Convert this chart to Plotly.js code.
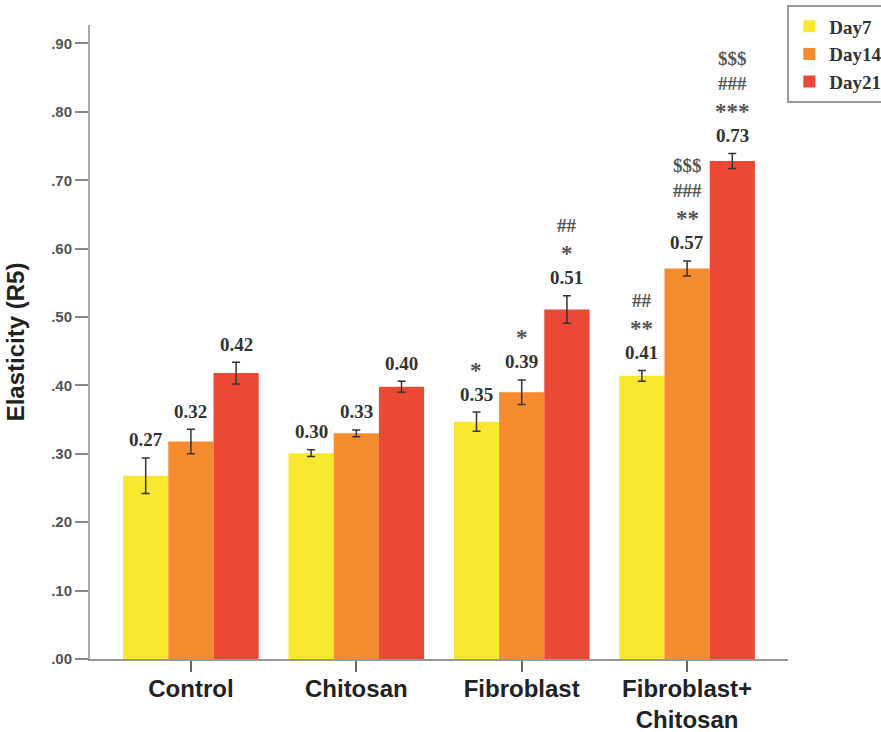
<!DOCTYPE html>
<html>
<head>
<meta charset="utf-8">
<script src="https://cdn.plot.ly/plotly-3.0.1.min.js"></script>
<style>html,body{margin:0;padding:0;background:#fff;}#chart{width:881px;height:732px;}</style>
</head>
<body>
<div id="chart"></div>
<script>
// ---- data ----
var groups = ['Control', 'Chitosan', 'Fibroblast', 'Fibroblast+<br>Chitosan'];
var seriesNames = ['Day7', 'Day14', 'Day21'];
var day7  = [0.268, 0.301, 0.347, 0.414];
var day14 = [0.318, 0.330, 0.390, 0.571];
var day21 = [0.418, 0.398, 0.511, 0.728];
var err7  = [0.026, 0.005, 0.014, 0.008];
var err14 = [0.018, 0.005, 0.018, 0.011];
var err21 = [0.016, 0.008, 0.020, 0.011];
var labels7  = ['0.27', '0.30', '0.35', '0.41'];
var labels14 = ['0.32', '0.33', '0.39', '0.57'];
var labels21 = ['0.42', '0.40', '0.51', '0.73'];
var sig7  = [[], [], ['*'], ['**', '##']];
var sig14 = [[], [], ['*'], ['**', '###', '$$$']];
var sig21 = [[], [], ['*', '##'], ['***', '###', '$$$']];
var yTickVals = [0, 0.1, 0.2, 0.3, 0.4, 0.5, 0.6, 0.7, 0.8, 0.9];
var yTickText = ['.00', '.10', '.20', '.30', '.40', '.50', '.60', '.70', '.80', '.90'];

// ---- styling ----
var colors = ['#F7E72D', '#F68C2F', '#EB4835'];
var bargap = 0.18;
var values = [day7, day14, day21];
var errs = [err7, err14, err21];
var labels = [labels7, labels14, labels21];
var sigs = [sig7, sig14, sig21];
var serif = 'Liberation Serif, Times New Roman, serif';
var sans = 'Liberation Sans, Arial, sans-serif';

var traces = values.map(function (v, k) {
  return {
    type: 'bar',
    name: seriesNames[k],
    x: groups,
    y: v,
    marker: {color: colors[k], line: {width: 0}},
    error_y: {type: 'data', array: errs[k], visible: true, color: '#333', thickness: 1.5, width: 4}
  };
});

var annotations = [];
var barW = (1 - bargap) / 3;
values.forEach(function (v, k) {
  v.forEach(function (val, i) {
    var xPos = i + (k - 1) * barW;
    var yTop = val + errs[k][i];
    annotations.push({
      x: xPos, y: yTop, xref: 'x', yref: 'y', showarrow: false,
      yanchor: 'middle', yshift: 18,
      text: labels[k][i],
      font: {family: serif, size: 19, color: '#333', weight: 'bold'}
    });
    sigs[k][i].forEach(function (s, j) {
      var isStar = s.charAt(0) === '*';
      annotations.push({
        x: xPos, y: yTop, xref: 'x', yref: 'y', showarrow: false,
        yanchor: 'middle', yshift: 18 + 27 + 25 * j - (isStar ? 3 : 0),
        text: s,
        font: {family: serif, size: isStar ? 23 : 19, color: '#555', weight: 'bold'}
      });
    });
  });
});

var layout = {
  width: 881, height: 732,
  margin: {l: 90, r: 93, t: 25, b: 73, autoexpand: false},
  paper_bgcolor: '#fff', plot_bgcolor: '#fff',
  barmode: 'group', bargap: bargap, bargroupgap: 0,
  showlegend: true,
  legend: {
    x: 0.999, y: 1.031, xanchor: 'left', yanchor: 'top',
    bordercolor: '#999', borderwidth: 2, bgcolor: '#fff',
    tracegroupgap: 0, itemwidth: 30,
    font: {family: serif, size: 19, color: '#333', weight: 'bold'}
  },
  xaxis: {
    type: 'category', range: [-0.61, 3.61],
    showline: true, linecolor: '#999', linewidth: 2,
    ticks: 'outside', ticklen: 11, tickwidth: 2, tickcolor: '#666',
    ticklabelstandoff: -4,
    showgrid: false, zeroline: false,
    tickfont: {family: sans, size: 24, color: '#222', weight: 'bold'}
  },
  yaxis: {
    range: [0, 0.927],
    showline: true, linecolor: '#aaa', linewidth: 2,
    ticks: 'outside', ticklen: 13, tickwidth: 2, tickcolor: '#888',
    tickvals: yTickVals, ticktext: yTickText,
    showgrid: false, zeroline: false,
    tickfont: {family: sans, size: 15, color: '#555', weight: 'bold'},
    title: {text: 'Elasticity (R5)', standoff: 20,
      font: {family: sans, size: 24, color: '#222', weight: 'bold'}}
  },
  annotations: annotations
};

Plotly.newPlot('chart', traces, layout, {displayModeBar: false, staticPlot: true});
</script>
</body>
</html>
